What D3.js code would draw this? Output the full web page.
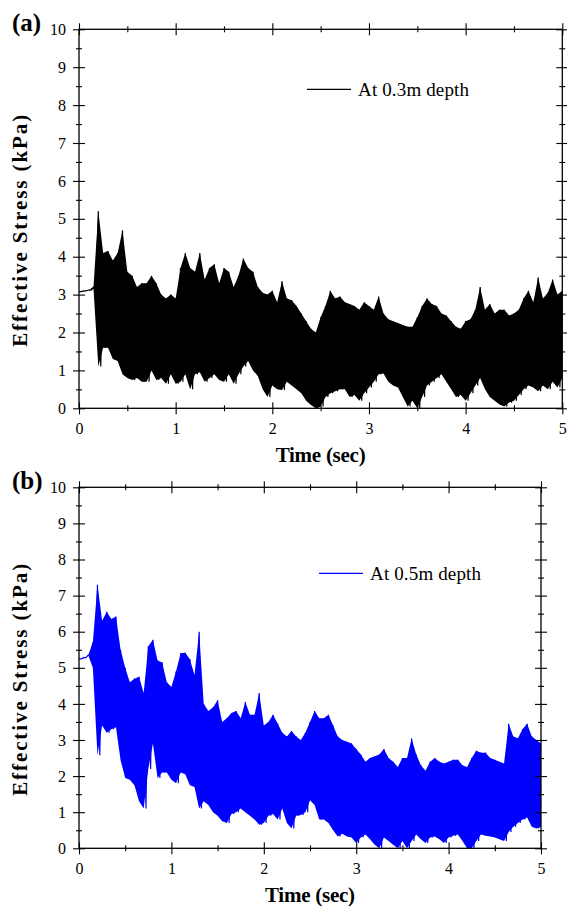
<!DOCTYPE html>
<html>
<head>
    <title>Effective Stress</title>
    <script src="https://d3js.org/d3.v7.min.js"></script>
    <style>
        body { margin: 0; background: #fff; }
        text { font-family: "Liberation Serif", "Times New Roman", serif; fill: #000; }
    </style>
</head>
<body>
    <svg id="chart"></svg>
    <script>
        const width = 567;
        const height = 909;

        // time step between samples (sec); each sample = one peak then one trough
        const step = 0.05;

        const xTicks = [0, 1, 2, 3, 4, 5];
        const xMinor = [0.5, 1.5, 2.5, 3.5, 4.5];
        const yTicks = [0, 1, 2, 3, 4, 5, 6, 7, 8, 9, 10];
        const yMinor = [0.5, 1.5, 2.5, 3.5, 4.5, 5.5, 6.5, 7.5, 8.5, 9.5];

        // (a) at 0.3m depth, peaks and troughs every 0.05 s
        const hiA = [3.08, 3.10, 3.12, 3.20, 5.20, 4.10, 4.15, 3.90, 4.10, 4.70,
                     3.60, 3.50, 3.20, 3.30, 3.30, 3.50, 3.30, 3.00, 2.90, 3.00,
                     2.90, 3.70, 4.10, 3.70, 3.60, 4.10, 3.40, 3.70, 3.80, 3.30,
                     3.70, 3.60, 3.20, 3.50, 3.95, 3.70, 3.60, 3.20, 3.05, 3.00,
                     3.10, 2.80, 3.35, 2.90, 2.85, 2.70, 2.50, 2.30, 2.10, 2.00,
                     2.40, 2.70, 3.10, 2.90, 2.95, 2.80, 2.75, 2.70, 2.60, 2.80,
                     2.70, 2.60, 2.95, 2.50, 2.35, 2.30, 2.25, 2.20, 2.15, 2.15,
                     2.40, 2.70, 2.90, 2.75, 2.70, 2.50, 2.45, 2.30, 2.15, 2.10,
                     2.30, 2.35, 2.60, 3.20, 2.60, 2.75, 2.50, 2.60, 2.60, 2.45,
                     2.50, 2.60, 2.90, 3.10, 2.80, 3.45, 2.90, 3.05, 3.40, 3.00,
                     3.10];
        const loA = [3.08, 3.10, 3.12, 3.15, 1.10, 1.60, 1.60, 1.30, 1.25, 0.90,
                     0.80, 0.75, 0.80, 0.70, 0.70, 1.00, 0.75, 0.80, 0.65, 0.90,
                     0.65, 0.70, 0.90, 0.50, 0.90, 0.95, 0.70, 0.80, 0.90, 0.75,
                     0.70, 0.90, 0.65, 0.90, 1.10, 1.25, 1.00, 0.85, 0.50, 0.30,
                     0.60, 0.50, 0.48, 0.70, 0.60, 0.50, 0.40, 0.20, 0.09, 0.00,
                     0.05, 0.30, 0.40, 0.45, 0.50, 0.50, 0.30, 0.35, 0.20, 0.40,
                     0.55, 0.70, 0.90, 0.92, 0.70, 0.60, 0.55, 0.30, 0.05, 0.20,
                     0.00, 0.30, 0.60, 0.70, 0.80, 0.90, 0.70, 0.50, 0.30, 0.35,
                     0.20, 0.40, 0.60, 0.80, 0.50, 0.30, 0.20, 0.10, 0.05, 0.15,
                     0.20, 0.35, 0.50, 0.60, 0.55, 0.45, 0.60, 0.50, 0.70, 0.55,
                     0.80];

        // (b) at 0.5m depth
        const hiB = [5.25, 5.28, 5.35, 5.70, 7.30, 6.30, 6.55, 6.35, 6.42, 5.50,
                     5.00, 4.60, 4.70, 4.75, 4.30, 5.60, 5.78, 5.20, 5.15, 4.60,
                     4.47, 4.90, 5.40, 5.42, 5.24, 4.80, 6.00, 4.00, 3.80, 3.90,
                     4.10, 3.50, 3.60, 3.75, 3.80, 3.60, 4.05, 3.70, 3.70, 4.30,
                     3.40, 3.50, 3.70, 3.46, 3.20, 3.10, 3.25, 3.10, 3.00, 3.20,
                     3.50, 3.80, 3.60, 3.60, 3.70, 3.40, 3.10, 3.00, 2.95, 2.90,
                     2.75, 2.60, 2.40, 2.50, 2.55, 2.60, 2.75, 2.50, 2.40, 2.25,
                     2.50, 2.50, 3.04, 2.60, 2.30, 2.15, 2.40, 2.50, 2.40, 2.35,
                     2.40, 2.45, 2.45, 2.30, 2.25, 2.50, 2.70, 2.65, 2.65, 2.50,
                     2.45, 2.40, 2.35, 3.45, 3.10, 3.05, 3.30, 3.45, 3.10, 3.00,
                     2.90];
        const loB = [5.25, 5.28, 5.35, 5.00, 2.58, 3.40, 3.20, 3.30, 3.35, 2.44,
                     1.95, 1.90, 1.75, 1.30, 1.10, 2.20, 2.90, 1.95, 2.10, 2.10,
                     1.90, 1.80, 2.10, 2.05, 1.75, 1.70, 1.10, 1.30, 1.20, 1.00,
                     0.90, 0.75, 0.70, 0.95, 1.00, 1.10, 1.00, 0.90, 0.80, 0.65,
                     0.70, 0.90, 0.95, 0.80, 1.10, 0.70, 0.55, 0.90, 0.92, 1.00,
                     1.33, 1.20, 0.80, 0.80, 0.70, 0.50, 0.33, 0.40, 0.33, 0.30,
                     0.15, 0.30, 0.38, 0.25, 0.10, 0.00, 0.30, 0.20, 0.10, 0.00,
                     0.20, 0.00, 0.20, 0.38, 0.25, 0.15, 0.30, 0.33, 0.25, 0.15,
                     0.30, 0.35, 0.38, 0.20, 0.00, 0.00, 0.20, 0.38, 0.35, 0.33,
                     0.30, 0.25, 0.20, 0.45, 0.60, 0.70, 0.80, 0.85, 0.60, 0.55,
                     0.60];

        const serif = '"Liberation Serif", "Times New Roman", serif';

        const svg = d3.select("#chart")
            .attr("width", width)
            .attr("height", height);

        // one tick set drawn from axis generator, with the domain line removed
        function addTicks(g, gen, scale, values, size, tr, labels, pad) {
            const ax = gen(scale).tickValues(values).tickSize(size).tickSizeOuter(0);
            if (labels) ax.tickPadding(pad).tickFormat(d3.format("d"));
            else ax.tickFormat("");
            const a = g.append("g").attr("transform", tr).call(ax);
            a.select(".domain").remove();
            a.attr("font-family", serif).attr("font-size", 16);
            a.selectAll("line").attr("stroke", "#000").attr("stroke-width", 1.1);
            a.selectAll("text").attr("fill", "#000").style("font-family", serif);
        }

        function drawPanel(p) {
            const w = p.w, h = p.h;
            const x = d3.scaleLinear().domain([0, 5]).range([0, w]);
            const y = d3.scaleLinear().domain([0, 10]).range([h, 0]);
            const g = svg.append("g").attr("transform", `translate(${p.left},${p.top})`);

            g.append("clipPath").attr("id", "clip-" + p.id)
                .append("rect").attr("width", w).attr("height", h);

            const plot = g.append("g").attr("clip-path", `url(#clip-${p.id})`);

            // dense core between the read peaks and troughs
            plot.append("path")
                .datum(p.hi.map((v, i) => [i * step, v, p.lo[i]]))
                .attr("fill", p.color)
                .attr("d", d3.area()
                    .x(d => x(d[0]))
                    .y0(d => y(d[2]))
                    .y1(d => y(d[1])));

            // zigzag signal: peak at t, trough half a step later
            const pts = [];
            p.hi.forEach((v, i) => {
                pts.push([i * step, v]);
                pts.push([i * step + step / 2, p.lo[i]]);
            });
            plot.append("path")
                .datum(pts)
                .attr("fill", "none")
                .attr("stroke", p.color)
                .attr("stroke-width", 1.2)
                .attr("d", d3.line().x(d => x(d[0])).y(d => y(d[1])));

            g.append("rect")
                .attr("width", w).attr("height", h)
                .attr("fill", "none").attr("stroke", "#000").attr("stroke-width", 1.3);

            // ticks cross each side of the frame
            [[xTicks, 6], [xMinor, 3]].forEach(([vals, s], k) => {
                addTicks(g, d3.axisBottom, x, vals, s, `translate(0,${h})`, k === 0, 8);
                addTicks(g, d3.axisTop, x, vals, s, `translate(0,${h})`, false);
                addTicks(g, d3.axisTop, x, vals, s, "translate(0,0)", false);
                addTicks(g, d3.axisBottom, x, vals, s, "translate(0,0)", false);
            });
            [[yTicks, 6], [yMinor, 3]].forEach(([vals, s], k) => {
                addTicks(g, d3.axisLeft, y, vals, s, "translate(0,0)", k === 0, 7);
                addTicks(g, d3.axisRight, y, vals, s, "translate(0,0)", false);
                addTicks(g, d3.axisRight, y, vals, s, `translate(${w},0)`, false);
                addTicks(g, d3.axisLeft, y, vals, s, `translate(${w},0)`, false);
            });

            // legend
            g.append("line")
                .attr("x1", p.legX).attr("x2", p.legX + 44)
                .attr("y1", p.legY).attr("y2", p.legY)
                .attr("stroke", p.color).attr("stroke-width", 1.2);
            g.append("text")
                .attr("x", p.legX + 51).attr("y", p.legY)
                .attr("dy", "0.33em")
                .attr("font-size", 19)
                .attr("textLength", 111)
                .text(p.label);

            // axis titles
            g.append("text")
                .attr("x", w / 2).attr("y", h + 54)
                .attr("text-anchor", "middle")
                .attr("font-size", 21).attr("font-weight", "bold")
                .attr("textLength", 90)
                .text("Time (sec)");
            g.append("text")
                .attr("transform", `translate(${27 - p.left},${h / 2 + 12}) rotate(-90)`)
                .attr("text-anchor", "middle")
                .attr("font-size", 21).attr("font-weight", "bold")
                .attr("textLength", 232)
                .text("Effective Stress (kPa)");

            svg.append("text")
                .attr("x", 12).attr("y", p.top + 2)
                .attr("font-size", 25).attr("font-weight", "bold")
                .text(p.tag);
        }

        drawPanel({ id: "a", tag: "(a)", left: 79, top: 29.3, w: 483.3, h: 379,
                    hi: hiA, lo: loA, color: "#000", label: "At 0.3m depth",
                    legX: 228, legY: 60 });
        drawPanel({ id: "b", tag: "(b)", left: 79, top: 487.3, w: 462, h: 361,
                    hi: hiB, lo: loB, color: "#0000ff", label: "At 0.5m depth",
                    legX: 240, legY: 86 });
    </script>
</body>
</html>
